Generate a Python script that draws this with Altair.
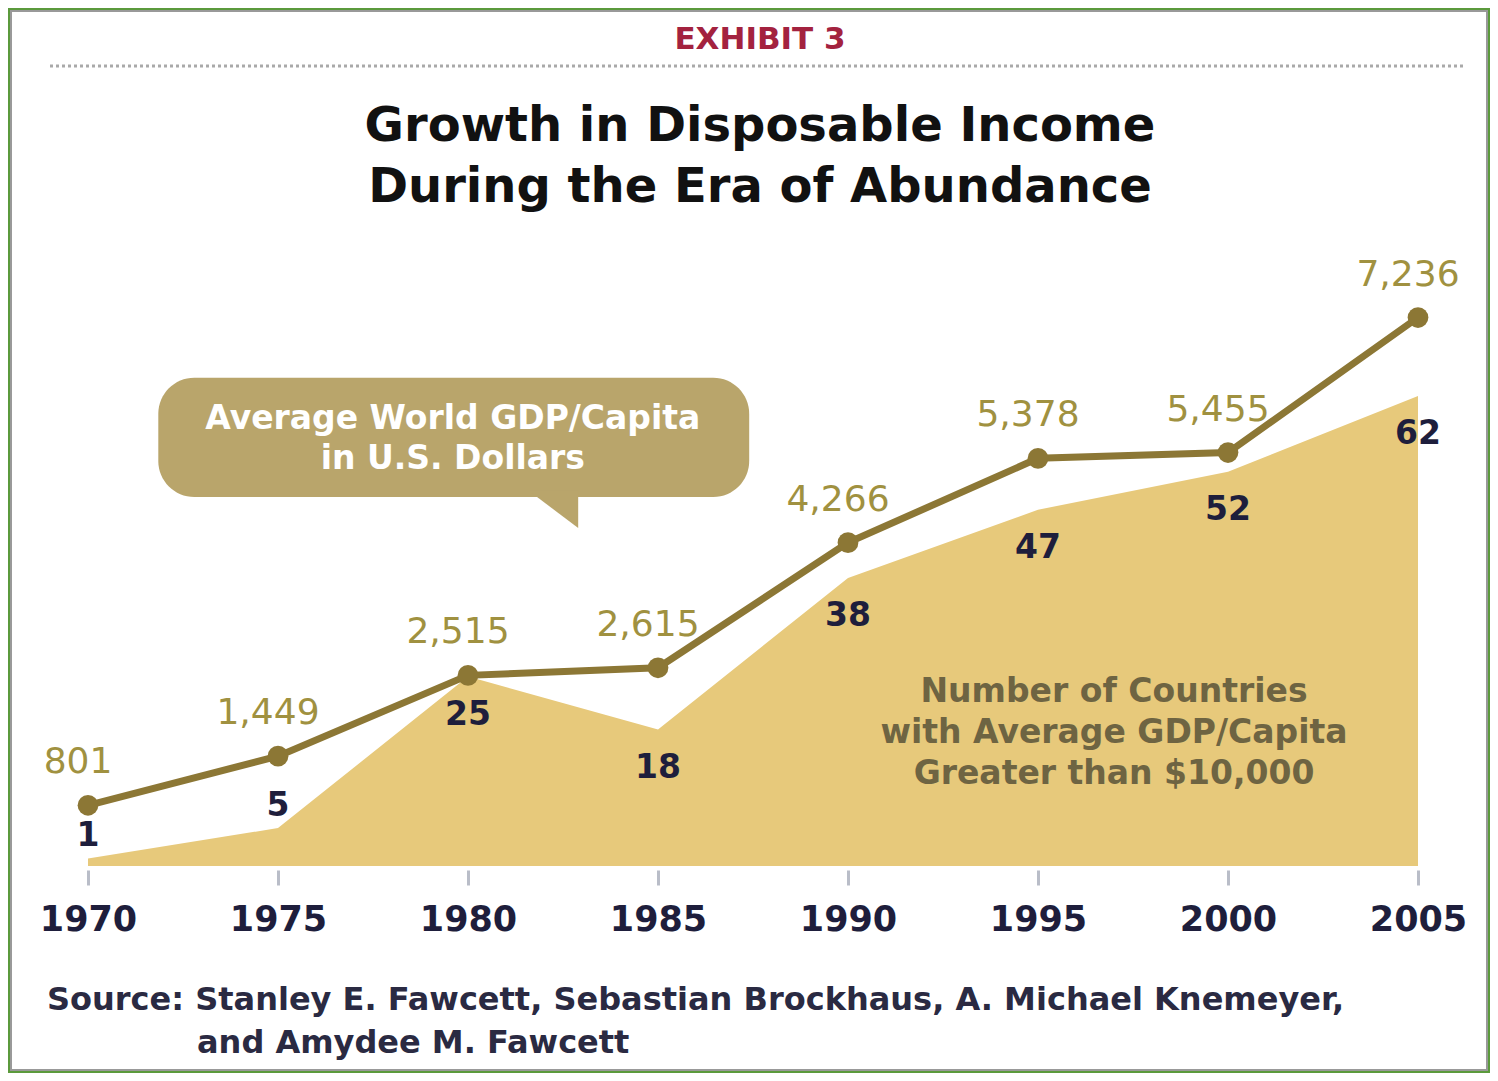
import altair as alt
import pandas as pd

# ---- data ----
years = [1970, 1975, 1980, 1985, 1990, 1995, 2000, 2005]
gdp_per_capita = [801, 1449, 2515, 2615, 4266, 5378, 5455, 7236]
countries_over_10k = [1, 5, 25, 18, 38, 47, 52, 62]
gdp_labels = ["801", "1,449", "2,515", "2,615", "4,266", "5,378", "5,455", "7,236"]

# callout bubble (in data units: years / GDP dollars)
bubble_x = [1971.85, 1987.4]
bubble_y = [4868, 6440]
pointer_x = [1981.6, 1982.9]
pointer_y = [4950, 4459]
bubble_text = ["Average World GDP/Capita", "in U.S. Dollars"]
bubble_text_pos = [1979.6, 5900]

area_note = ["Number of Countries", "with Average GDP/Capita", "Greater than $10,000"]
area_note_pos = [1997.0, 23.0]

exhibit = "EXHIBIT 3"
title_lines = ["Growth in Disposable Income", "During the Era of Abundance"]
source_lines = ["Source: Stanley E. Fawcett, Sebastian Brockhaus, A. Michael Knemeyer,",
                "and Amydee M. Fawcett"]

df = pd.DataFrame({"year": years, "gdp": gdp_per_capita,
                   "countries": countries_over_10k, "gdp_label": gdp_labels})

FONT = "DejaVu Sans"
LINE_COL = "#8c7735"
AREA_COL = "#e7c97b"
GDP_LABEL_COL = "#a09140"
NAVY = "#1e1e3c"

X = alt.Scale(domain=[1970, 2005], range=[80, 1410])
YG = alt.Scale(domain=[0, 10000], range=[858, 100])
YC = alt.Scale(domain=[0, 100], range=[858, 100])

AX = alt.Axis(
    values=years, format="d", offset=-203, domain=False, grid=False,
    ticks=True, tickSize=15, tickWidth=3, tickColor="#b9bdc8",
    labelFont=FONT, labelFontSize=35, labelFontWeight="bold",
    labelColor=NAVY, labelPadding=17, labelFlush=False, labelOverlap=False,
    title=None)


def xq(field):
    return alt.X(field, type="quantitative", scale=X, axis=AX)


base = alt.Chart(df)

area = base.mark_area(color=AREA_COL, opacity=1).encode(
    x=xq("year"),
    y=alt.Y("countries:Q", scale=YC, axis=None),
)

bubble_df = pd.DataFrame({"x1": [bubble_x[0]], "x2": [bubble_x[1]],
                          "y1": [bubble_y[0]], "y2": [bubble_y[1]]})
bubble = alt.Chart(bubble_df).mark_rect(color="#b9a56b", cornerRadius=36).encode(
    x=xq("x1"), x2="x2:Q",
    y=alt.Y("y1:Q", scale=YG, axis=None), y2="y2:Q",
)

pointer_df = pd.DataFrame({"px": pointer_x, "py": [pointer_y[0], pointer_y[0]],
                           "py2": [pointer_y[0], pointer_y[1]]})
pointer = alt.Chart(pointer_df).mark_area(color="#b9a56b", opacity=1).encode(
    x=xq("px"),
    y=alt.Y("py:Q", scale=YG, axis=None), y2="py2:Q",
)

line = base.mark_line(color=LINE_COL, strokeWidth=7).encode(
    x=xq("year"),
    y=alt.Y("gdp:Q", scale=YG, axis=None),
)
points = base.mark_circle(color=LINE_COL, size=430, opacity=1).encode(
    x=xq("year"),
    y=alt.Y("gdp:Q", scale=YG, axis=None),
)
gdp_text = base.mark_text(font=FONT, fontSize=36, color=GDP_LABEL_COL,
                          dy=-43, dx=-10, baseline="middle").encode(
    x=xq("year"),
    y=alt.Y("gdp:Q", scale=YG, axis=None),
    text="gdp_label:N",
)

cnt_below = base.transform_filter("datum.countries >= 10").mark_text(
    font=FONT, fontSize=33, fontWeight="bold", color=NAVY, dy=38, baseline="middle").encode(
    x=xq("year"),
    y=alt.Y("countries:Q", scale=YC, axis=None),
    text="countries:Q",
)
cnt_above = base.transform_filter("datum.countries < 10").mark_text(
    font=FONT, fontSize=33, fontWeight="bold", color=NAVY, dy=-22, baseline="middle").encode(
    x=xq("year"),
    y=alt.Y("countries:Q", scale=YC, axis=None),
    text="countries:Q",
)

bt_df = pd.DataFrame({"x": [bubble_text_pos[0]], "y": [bubble_text_pos[1]]})
bubble_label = alt.Chart(bt_df).mark_text(
    text=bubble_text, font=FONT, fontSize=33, fontWeight="bold", color="white",
    lineHeight=40, baseline="middle", align="center").encode(
    x=xq("x"),
    y=alt.Y("y:Q", scale=YG, axis=None),
)

an_df = pd.DataFrame({"x": [area_note_pos[0]], "y": [area_note_pos[1]]})
area_label = alt.Chart(an_df).mark_text(
    text=area_note, font=FONT, fontSize=33, fontWeight="bold", color="#6e6442",
    lineHeight=41, baseline="middle", align="center").encode(
    x=xq("x"),
    y=alt.Y("y:Q", scale=YC, axis=None),
)

one = pd.DataFrame({"k": [0]})
inner_frame = alt.Chart(one).mark_rect(fill="white", fillOpacity=0, stroke="#6e6e6e",
                                       strokeWidth=2, strokeOpacity=0.7).encode(
    x=alt.value(3), x2=alt.value(1479), y=alt.value(3), y2=alt.value(1062))
exhibit_txt = alt.Chart(one).mark_text(
    text=exhibit, font=FONT, fontSize=31, fontWeight="bold", color="#a3223f",
    baseline="middle", align="center").encode(x=alt.value(752), y=alt.value(32))
dotted = alt.Chart(one).mark_rule(color="#a9a9a9", strokeWidth=3, strokeDash=[3, 3]).encode(
    x=alt.value(42), x2=alt.value(1457), y=alt.value(58))
title_txt = alt.Chart(one).mark_text(
    text=title_lines, font=FONT, fontSize=48, fontWeight="bold", color="#111111",
    lineHeight=61, baseline="middle", align="center").encode(x=alt.value(752), y=alt.value(119))
src1 = alt.Chart(one).mark_text(
    text=source_lines[0], font=FONT, fontSize=32, fontWeight="bold", color="#2a2a42",
    baseline="middle", align="left").encode(x=alt.value(39), y=alt.value(992))
src2 = alt.Chart(one).mark_text(
    text=source_lines[1], font=FONT, fontSize=32, fontWeight="bold", color="#2a2a42",
    baseline="middle", align="left").encode(x=alt.value(189), y=alt.value(1035))

chart = alt.layer(
    inner_frame, area, bubble, pointer, line, points, gdp_text, cnt_below, cnt_above,
    bubble_label, area_label, exhibit_txt, dotted, title_txt, src1, src2
).resolve_scale(y="independent").properties(
    width=1482, height=1065,
    autosize=alt.AutoSizeParams(type="none"),
    padding=0,
    background="white",
).configure_view(stroke="#5b9a3c", strokeWidth=4)

chart.save("out.html", embed_options={"renderer": "svg", "actions": False})
